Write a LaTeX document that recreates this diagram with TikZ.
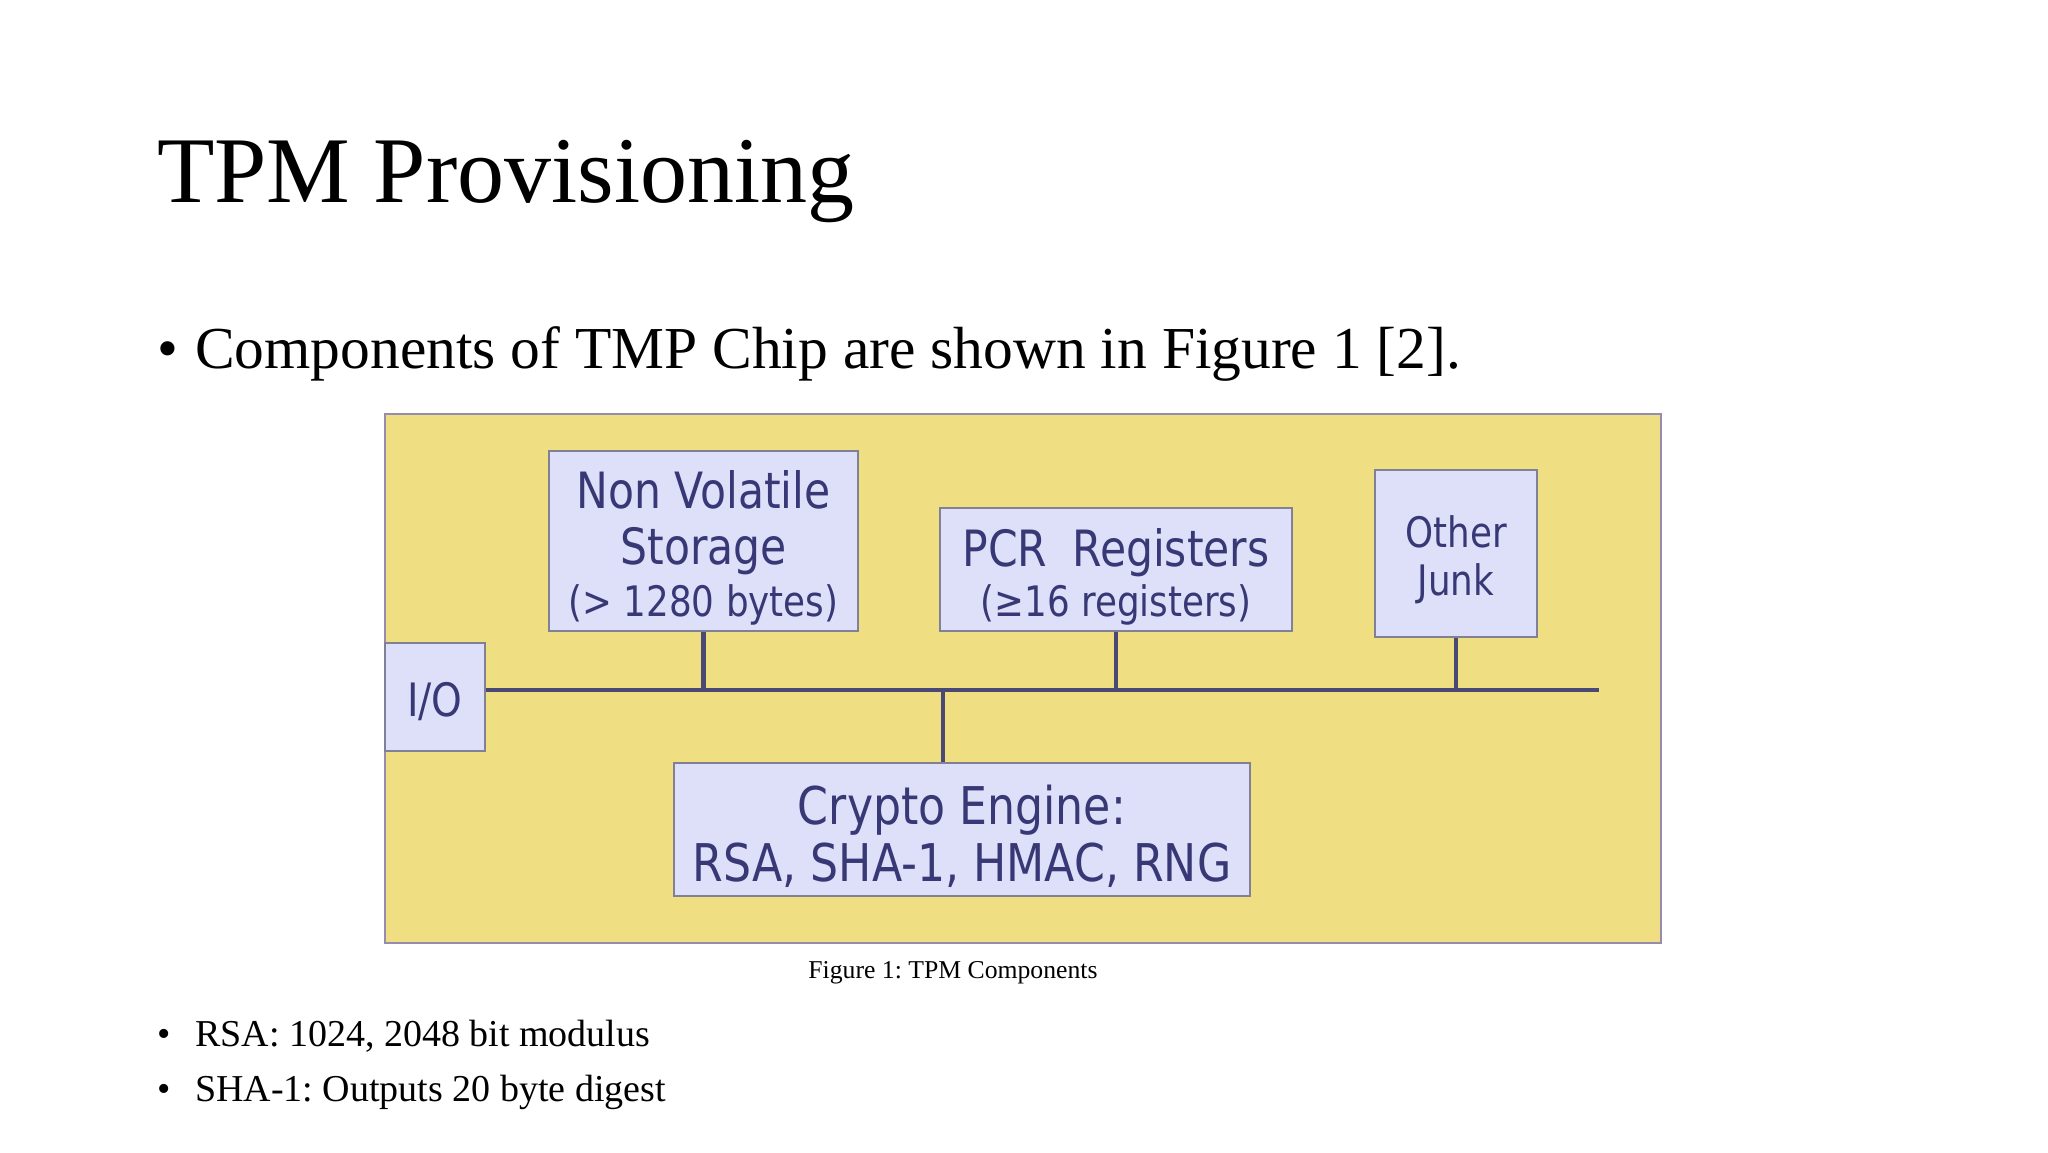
\documentclass[tikz,border=0pt]{standalone}
\usepackage{fontspec}
\setmainfont{Liberation Serif}
\newfontfamily\figfont[FakeStretch=0.85]{DejaVu Sans}
\usetikzlibrary{positioning}
\frenchspacing

\definecolor{chipyellow}{RGB}{240,222,130}
\definecolor{chipedge}{RGB}{150,140,175}
\definecolor{boxfill}{RGB}{221,224,248}
\definecolor{boxedge}{RGB}{128,128,150}
\definecolor{navytext}{RGB}{56,56,118}
\definecolor{busline}{RGB}{74,72,116}

\begin{document}
\begin{tikzpicture}[
    x=1pt, y=-1pt, % work in pixels of the slide
    unit/.style={draw=boxedge, fill=boxfill, line width=2pt, inner sep=0pt},
    unittext/.style={text=navytext, align=center, inner sep=0pt,
                     font=\figfont\fontsize{50}{56}\selectfont},
    small/.style={font=\figfont\fontsize{42}{48}\selectfont},
    bus/.style={draw=busline, line width=4.5pt},
    slide/.style={anchor=base west, inner sep=0pt}
]
    \useasboundingbox[fill=white] (0,0) rectangle (2048,1152);

    % slide text
    \node (title) [slide, font=\fontsize{94}{110}\selectfont] at (157,202) {TPM Provisioning};
    \node (intro) [slide, font=\fontsize{59.5}{70}\selectfont] at (157,368)
        {\makebox[38pt][l]{•}Components of TMP Chip are shown in Figure 1 [2].};

    % the chip
    \node (chip) [draw=chipedge, fill=chipyellow, line width=2pt, inner sep=0pt,
                  minimum width=1276, minimum height=529] at (1023,678.5) {};

    \node (nv) [unit, minimum width=309, minimum height=180] at (703.5,541) {};
    \node (pcr) [unit, minimum width=352, minimum height=123] at (1116,569.5) {};
    \node (junk) [unit, minimum width=162, minimum height=167] at (1456,553.5) {};
    \node (io) [unit, minimum width=100, minimum height=108] at (435,697) {};
    \node (crypto) [unit, minimum width=576, minimum height=133] at (962,829.5) {};

    % box labels, a little below centre as in the figure
    \node (nvtext) [unittext] at ([yshift=-7pt]nv.center)
        {Non Volatile\\Storage\\[-4pt]{\fontsize{42}{48}\selectfont(> 1280 bytes)}};
    \node (pcrtext) [unittext] at ([yshift=-7pt]pcr.center)
        {PCR\,\,\,Registers\\[-6pt]{\fontsize{42}{48}\selectfont(≥16 registers)}};
    \node (junktext) [unittext, small] at ([yshift=-6pt]junk.center) {Other\\Junk};
    \node (iotext) [unittext, font=\figfont\fontsize{46}{52}\selectfont]
        at ([yshift=-5pt]io.center) {I/O};
    \node (cryptotext) [unittext, font=\figfont\fontsize{52}{57}\selectfont]
        at ([yshift=-7pt]crypto.center) {Crypto Engine:\\RSA, SHA-1, HMAC, RNG};

    % bus and stubs
    \coordinate (busend) at (1599,690);
    \draw [bus] (io.east |- busend) -- (busend);
    \draw [bus] (nv.south) -- (nv.south |- busend);
    \draw [bus] (pcr.south) -- (pcr.south |- busend);
    \draw [bus] (junk.south) -- (junk.south |- busend);
    \draw [bus] ([xshift=-19pt]crypto.north) -- ([xshift=-19pt]crypto.north |- busend);

    % caption and notes
    \node (caption) [anchor=base, inner sep=0pt, font=\fontsize{25.7}{30}\selectfont]
        at (953,978) {Figure 1: TPM Components};
    \node (rsa) [slide, font=\fontsize{38}{44}\selectfont] at (157,1046)
        {\makebox[38pt][l]{•}RSA: 1024, 2048 bit modulus};
    \node (sha) [slide, font=\fontsize{38}{44}\selectfont] at (157,1101)
        {\makebox[38pt][l]{•}SHA-1: Outputs 20 byte digest};
\end{tikzpicture}
\end{document}
